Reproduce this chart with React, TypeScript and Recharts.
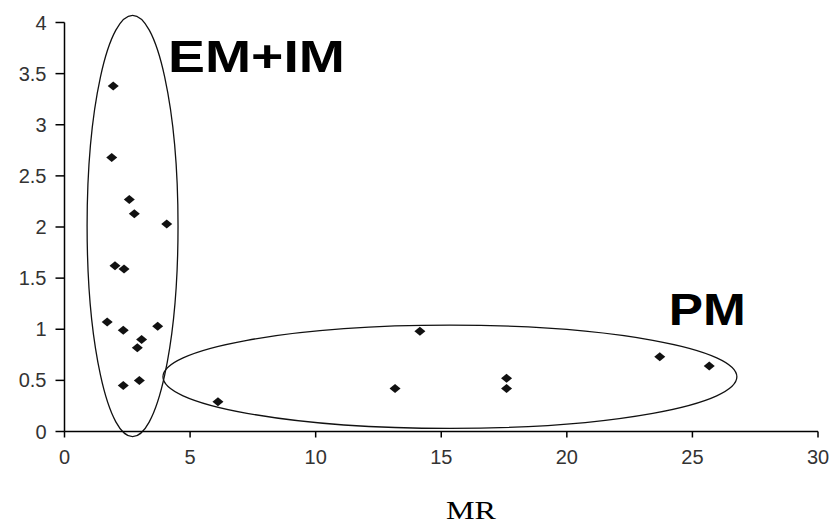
import { ScatterChart, Scatter, XAxis, YAxis, ReferenceArea, ReferenceDot } from 'recharts'

// MR values (x) and the matching y values
const emImX = [1.94, 1.88, 2.58, 2.78, 4.07, 2.01, 2.37, 1.7, 2.34, 3.71, 3.07, 2.9, 2.34, 2.98]
const emImY = [3.38, 2.68, 2.27, 2.13, 2.03, 1.62, 1.59, 1.07, 0.99, 1.03, 0.9, 0.82, 0.45, 0.5]
const pmX = [6.11, 13.16, 14.15, 17.6, 17.6, 23.7, 25.67]
const pmY = [0.29, 0.42, 0.98, 0.52, 0.42, 0.73, 0.64]

const xTicks = [0, 5, 10, 15, 20, 25, 30]
const yTicks = [0, 0.5, 1, 1.5, 2, 2.5, 3, 3.5, 4]

// bounding boxes of the two group ellipses, in data units
const emImBox = { x1: 0.9, x2: 4.52, y1: -0.05, y2: 4.07 }
const pmBox = { x1: 3.92, x2: 26.77, y1: 0.03, y2: 1.04 }

const emImData = emImX.map((x, i) => ({ x, y: emImY[i] }))
const pmData = pmX.map((x, i) => ({ x, y: pmY[i] }))

const diamond = (p: any) => (
  <path
    d={`M${p.cx - 5.5},${p.cy} L${p.cx},${p.cy - 4.5} L${p.cx + 5.5},${p.cy} L${p.cx},${p.cy + 4.5} Z`}
    fill="#111"
  />
)

const ellipse = (p: any) => (
  <ellipse
    cx={p.x + p.width / 2}
    cy={p.y + p.height / 2}
    rx={Math.abs(p.width) / 2}
    ry={Math.abs(p.height) / 2}
    fill="none"
    stroke="#111"
    strokeWidth={1.3}
  />
)

const groupLabel = (text: string, len: number) => (p: any) => (
  <text
    x={p.cx}
    y={p.cy}
    fontFamily="Liberation Sans, Arial, sans-serif"
    fontWeight="bold"
    fontSize={44}
    fill="#000"
    textLength={len}
    lengthAdjust="spacingAndGlyphs"
  >
    {text}
  </text>
)

const tickStyle = { fontFamily: 'Liberation Sans, Arial, sans-serif', fontSize: 20, fill: '#333' }

export default function App() {
  return (
    <div style={{ position: 'absolute', left: 0, top: 0, background: '#fff' }}>
      <ScatterChart width={833} height={526} margin={{ top: 22.5, right: 15, bottom: 64.5, left: 0 }}>
        <XAxis
          type="number"
          dataKey="x"
          domain={[0, 30]}
          ticks={xTicks}
          interval={0}
          height={30}
          tickSize={6}
          tickMargin={12}
          fontSize={20}
          tick={tickStyle}
          axisLine={{ stroke: '#000', strokeWidth: 1.5 }}
          tickLine={{ stroke: '#000', strokeWidth: 1.5 }}
          label={{
            content: (props: any) => (
              <text
                x={446}
                y={props.viewBox.y + 87}
                fontFamily="Liberation Serif, Times New Roman, serif"
                fontSize={25}
                fill="#000"
                textLength={50}
                lengthAdjust="spacingAndGlyphs"
              >
                MR
              </text>
            ),
          }}
        />
        <YAxis
          type="number"
          dataKey="y"
          domain={[0, 4]}
          ticks={yTicks}
          interval={0}
          width={64.5}
          tickSize={9}
          tickMargin={9}
          fontSize={20}
          tick={tickStyle}
          axisLine={{ stroke: '#000', strokeWidth: 1.5 }}
          tickLine={{ stroke: '#000', strokeWidth: 1.5 }}
        />
        <ReferenceArea {...emImBox} ifOverflow="visible" shape={ellipse} />
        <ReferenceArea {...pmBox} ifOverflow="visible" shape={ellipse} />
        <ReferenceDot x={4.12} y={3.52} r={0} ifOverflow="visible" shape={groupLabel('EM+IM', 177)} />
        <ReferenceDot x={24.06} y={1.04} r={0} ifOverflow="visible" shape={groupLabel('PM', 77)} />
        <Scatter data={emImData} shape={diamond} isAnimationActive={false} />
        <Scatter data={pmData} shape={diamond} isAnimationActive={false} />
      </ScatterChart>
    </div>
  )
}
